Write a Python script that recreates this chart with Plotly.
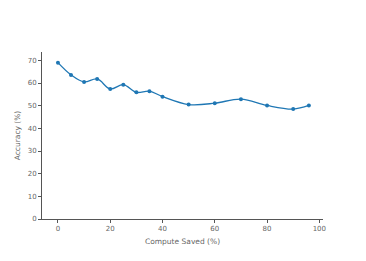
import plotly.graph_objects as go

compute_saved = [0, 5, 10, 15, 20, 25, 30, 35, 40, 50, 60, 70, 80, 90, 96]
accuracy = [69.0, 63.6, 60.5, 61.8, 57.4, 59.3, 55.9, 56.4, 54.0, 50.5, 51.1, 52.9, 50.1, 48.5, 50.1]

fig = go.Figure()
fig.add_trace(go.Scatter(
    x=compute_saved, y=accuracy, mode="lines+markers",
    line=dict(color="#1f77b4", width=1.3, shape="spline"),
    marker=dict(color="#1f77b4", size=4),
    showlegend=False,
))

axis_common = dict(
    showgrid=False, zeroline=False, showline=True, linecolor="#555", linewidth=1,
    ticks="outside", ticklen=3, tickcolor="#555", automargin=False,
    tickfont=dict(family="DejaVu Sans", size=7, color="#666"),
    title_font=dict(family="DejaVu Sans", size=7.5, color="#666"),
)
fig.update_layout(
    width=366, height=261,
    margin=dict(l=34, r=51, t=44, b=50),
    paper_bgcolor="white", plot_bgcolor="white",
    xaxis=dict(range=[-6.1, 101.4], tickvals=[0, 20, 40, 60, 80, 100],
               title=dict(text="Compute Saved (%)", standoff=6), **axis_common),
    yaxis=dict(range=[0, 73.7], tickvals=[0, 10, 20, 30, 40, 50, 60, 70],
               title=dict(text="Accuracy (%)", standoff=6), **axis_common),
)
fig.write_html("out.html")
